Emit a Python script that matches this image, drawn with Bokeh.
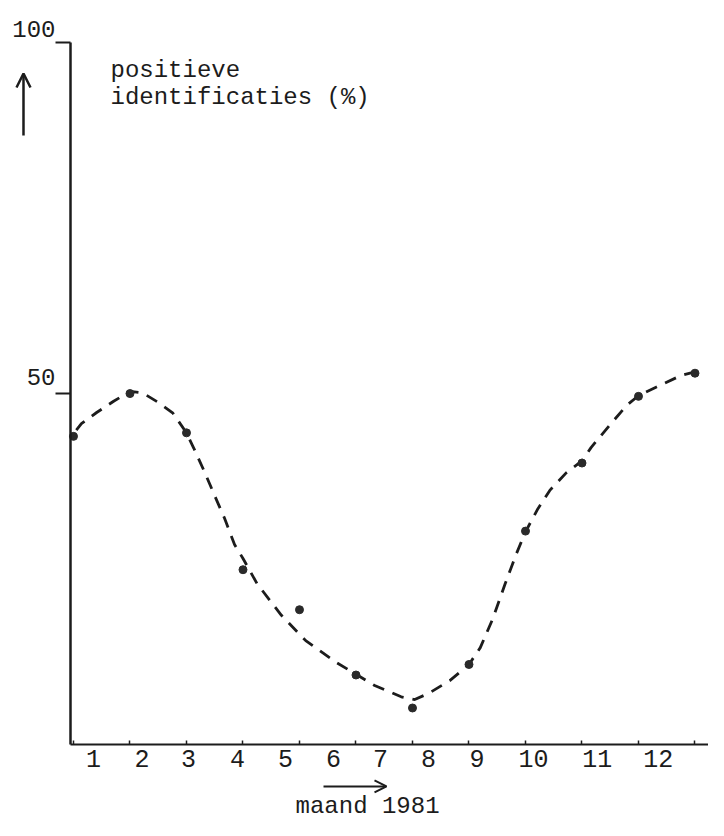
from bokeh.plotting import figure
from bokeh.models import Range1d, FixedTicker, LinearAxis, Label, Arrow, OpenHead
from bokeh.embed import file_html
from bokeh.resources import INLINE

# ---- data ----
months = [1, 2, 3, 4, 5, 6, 7, 8, 9, 10, 11, 12]
positive_pct = [43.9, 50.0, 44.4, 24.9, 19.2, 9.9, 5.2, 11.4, 30.4, 40.1, 49.6, 52.9]

# hand-drawn dashed trend curve
trend_month = [1.05, 1.14, 1.41, 1.71, 2.0, 2.22, 2.51, 2.76, 3.0, 3.13, 3.31, 3.48,
               3.67, 3.85, 4.0, 4.25, 4.68, 5.11, 5.65, 6.0, 6.33, 6.8, 7.04, 7.29,
               7.66, 8.0, 8.2, 8.42, 8.64, 8.84, 9.0, 9.22, 9.43, 9.72, 10.0, 10.16,
               10.48, 10.79, 11.0, 11.31, 11.76, 12.0]
trend_pct = [44.8, 45.7, 47.3, 48.9, 50.3, 50.1, 48.7, 47.2, 44.4, 42.2, 39.0, 35.8,
             32.3, 28.5, 26.5, 22.9, 18.4, 14.8, 11.7, 10.0, 8.4, 6.8, 6.4, 7.3,
             9.1, 11.4, 13.8, 17.9, 22.9, 27.2, 30.3, 33.6, 36.2, 38.7, 40.4, 42.3,
             45.4, 48.3, 49.7, 50.9, 52.6, 53.1]

month_labels = ["1", "2", "3", "4", "5", "6", "7", "8", "9", "10", "11", "12"]
month_label_pos = [1.354, 2.212, 3.035, 3.903, 4.752, 5.602, 6.434, 7.283, 8.14, 9.142, 10.27, 11.35]
y_ticks = [50, 100]
y_tick_labels = ["50", "100"]
y_label_pos = [52.35, 101.9]
y_title_lines = ["positieve", "identificaties (%)"]
x_title = "maand 1981"

INK = "#1c1c1c"
FONT = "Liberation Mono"
X0 = 0.947  # where the y axis stands (left end of the month scale)

p = figure(width=708, height=820,
           x_range=Range1d(-0.292, 12.239), y_range=Range1d(-10.83, 106.0),
           x_axis_type=None, y_axis_type=None,
           output_backend="svg", toolbar_location=None,
           min_border_left=0, min_border_right=0,
           min_border_top=0, min_border_bottom=0)
p.outline_line_color = None
p.background_fill_color = "white"
p.border_fill_color = "white"

# y axis line with outward ticks at 50 and 100
yaxis = LinearAxis(fixed_location=X0, bounds=(0, 100),
                   ticker=FixedTicker(ticks=y_ticks),
                   major_label_overrides={t: "" for t in y_ticks},
                   major_tick_out=15, major_tick_in=0,
                   minor_tick_out=0, minor_tick_in=0,
                   axis_line_width=2.5, axis_line_color=INK,
                   major_tick_line_width=2, major_tick_line_color=INK,
                   major_label_standoff=0)
p.add_layout(yaxis, "left")

# y tick labels, sitting just above their ticks
ylab = LinearAxis(fixed_location=X0,
                  ticker=FixedTicker(ticks=y_label_pos),
                  major_label_overrides={pos: lab for pos, lab in zip(y_label_pos, y_tick_labels)},
                  axis_line_color=None, major_tick_line_color=None, minor_tick_line_color=None,
                  major_tick_out=0, major_tick_in=0, minor_tick_out=0, minor_tick_in=0,
                  major_label_text_font=FONT, major_label_text_font_size="24px",
                  major_label_text_color=INK, major_label_standoff=15)
p.add_layout(ylab, "left")

# x axis line with small tick marks at the months
xaxis = LinearAxis(fixed_location=0, bounds=(X0, 12.239),
                   ticker=FixedTicker(ticks=months),
                   major_label_overrides={m: "" for m in months},
                   major_tick_in=4, major_tick_out=0,
                   minor_tick_out=0, minor_tick_in=0,
                   axis_line_width=2, axis_line_color=INK,
                   major_tick_line_width=1.5, major_tick_line_color=INK,
                   major_label_standoff=0)
p.add_layout(xaxis, "below")

# x tick labels (hand placed between the marks)
xlab = LinearAxis(fixed_location=0,
                  ticker=FixedTicker(ticks=month_label_pos),
                  major_label_overrides={pos: lab for pos, lab in zip(month_label_pos, month_labels)},
                  axis_line_color=None, major_tick_line_color=None, minor_tick_line_color=None,
                  major_tick_out=0, major_tick_in=0, minor_tick_out=0, minor_tick_in=0,
                  major_label_text_font=FONT, major_label_text_font_size="25px",
                  major_label_text_color=INK, major_label_standoff=6)
p.add_layout(xlab, "below")

# trend curve and observations
p.line(trend_month, trend_pct, line_color=INK, line_width=2.8, line_dash="12 9")
p.scatter(months, positive_pct, size=8, fill_color="#2a2a2a", line_color="#2a2a2a")

# y title
p.add_layout(Label(x=1.655, y=96.0, text=y_title_lines[0], text_font=FONT,
                   text_font_size="24px", text_color=INK,
                   text_align="left", text_baseline="alphabetic"))
p.add_layout(Label(x=1.655, y=92.24, text=y_title_lines[1], text_font=FONT,
                   text_font_size="24px", text_color=INK,
                   text_align="left", text_baseline="alphabetic"))

# up arrow
p.add_layout(Arrow(end=OpenHead(size=14, line_width=2.5, line_color=INK),
                   x_start=0.115, y_start=86.75, x_end=0.115, y_end=95.6,
                   line_width=2.5, line_color=INK))

# x title with arrow
p.add_layout(Label(x=4.93, y=-8.83, text=x_title, text_font=FONT,
                   text_font_size="24px", text_color=INK,
                   text_align="left", text_baseline="alphabetic"))
p.add_layout(Arrow(end=OpenHead(size=12, line_width=2, line_color=INK),
                   x_start=5.425, y_start=-5.98, x_end=6.54, y_end=-5.98,
                   line_width=2, line_color=INK))

open("out.html", "w").write(file_html(p, INLINE))
